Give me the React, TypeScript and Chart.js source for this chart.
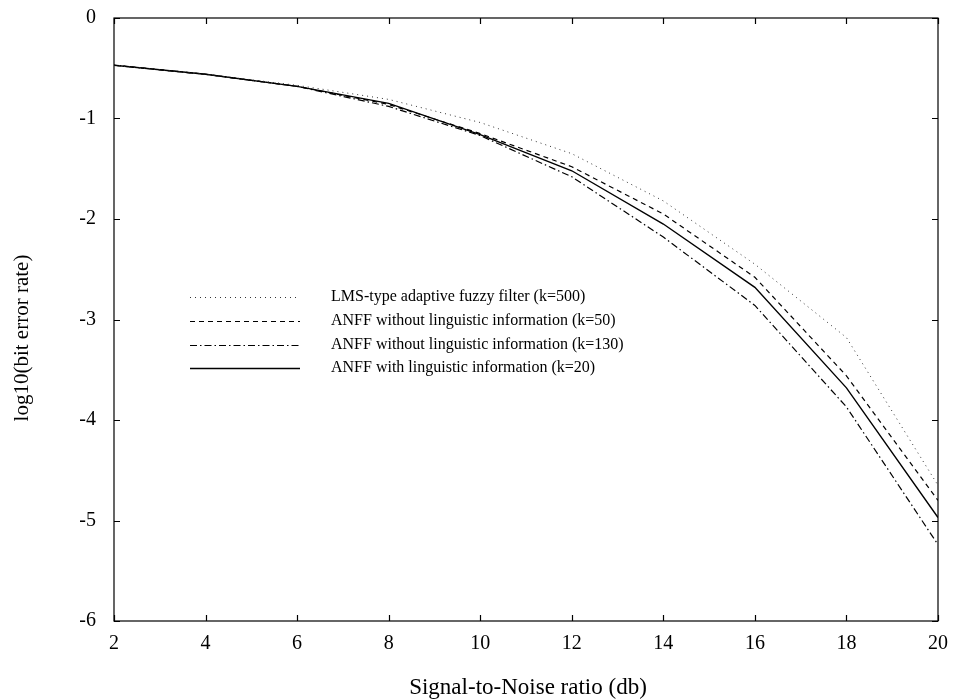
import React, { useEffect, useRef } from "react";
import { Chart, registerables } from "chart.js";

Chart.register(...registerables);

const snr = [2, 4, 6, 8, 10, 12, 14, 16, 18, 20];
const lmsK500 = [-0.47, -0.56, -0.67, -0.81, -1.04, -1.35, -1.82, -2.45, -3.18, -4.65];
const anffNoLingK50 = [-0.47, -0.56, -0.68, -0.86, -1.15, -1.48, -1.95, -2.58, -3.56, -4.8];
const anffNoLingK130 = [-0.47, -0.56, -0.68, -0.88, -1.17, -1.58, -2.18, -2.86, -3.87, -5.24];
const anffLingK20 = [-0.47, -0.56, -0.68, -0.85, -1.16, -1.52, -2.05, -2.68, -3.68, -4.97];

const seriesLabels = [
  "LMS-type adaptive fuzzy filter (k=500)",
  "ANFF without linguistic information (k=50)",
  "ANFF without linguistic information (k=130)",
  "ANFF with linguistic information (k=20)",
];
const xTicks = [2, 4, 6, 8, 10, 12, 14, 16, 18, 20];
const yTicks = [0, -1, -2, -3, -4, -5, -6];
const xTitle = "Signal-to-Noise ratio (db)";
const yTitle = "log10(bit error rate)";

const SERIF = "'Liberation Serif', 'DejaVu Serif', serif";

const framePlugin = {
  id: "frameTicks",
  afterDraw(chart: any) {
    const { ctx, chartArea: a, scales } = chart;
    const xs = scales.x;
    const ys = scales.y;
    ctx.save();
    ctx.strokeStyle = "#000";
    ctx.lineWidth = 1.2;
    ctx.setLineDash([]);
    ctx.strokeRect(a.left, a.top, a.right - a.left, a.bottom - a.top);
    const tl = 6;
    ctx.beginPath();
    xTicks.forEach((v) => {
      const px = Math.round(xs.getPixelForValue(v)) + 0.5;
      ctx.moveTo(px, a.bottom);
      ctx.lineTo(px, a.bottom - tl);
      ctx.moveTo(px, a.top);
      ctx.lineTo(px, a.top + tl);
    });
    yTicks.forEach((v) => {
      const py = Math.round(ys.getPixelForValue(v)) + 0.5;
      ctx.moveTo(a.left, py);
      ctx.lineTo(a.left + tl, py);
      ctx.moveTo(a.right, py);
      ctx.lineTo(a.right - tl, py);
    });
    ctx.stroke();

    // axis titles
    ctx.fillStyle = "#000";
    ctx.textAlign = "center";
    ctx.textBaseline = "middle";
    ctx.font = `23px ${SERIF}`;
    ctx.fillText(xTitle, (a.left + a.right) / 2 + 2, 688);
    ctx.save();
    ctx.translate(22, 338);
    ctx.rotate(-Math.PI / 2);
    ctx.font = `21px ${SERIF}`;
    ctx.fillText(yTitle, 0, 0);
    ctx.restore();

    // legend inside the plot
    const ds = chart.data.datasets;
    const x0 = 190;
    const x1 = 300;
    const tx = 331;
    const rowY = [297, 321, 345, 368];
    ctx.font = `16px ${SERIF}`;
    ctx.textBaseline = "middle";
    ctx.textAlign = "left";
    ds.forEach((d: any, i: number) => {
      ctx.beginPath();
      ctx.strokeStyle = d.borderColor;
      ctx.lineWidth = d.borderWidth;
      ctx.setLineDash(d.borderDash || []);
      ctx.moveTo(x0, rowY[i] + 0.5);
      ctx.lineTo(x1, rowY[i] + 0.5);
      ctx.stroke();
      ctx.setLineDash([]);
      ctx.fillText(d.label, tx, rowY[i]);
    });
    ctx.restore();
  },
};

export default function App() {
  const ref = useRef<HTMLCanvasElement | null>(null);
  useEffect(() => {
    if (!ref.current) return;
    const mk = (data: number[]) => snr.map((x, i) => ({ x, y: data[i] }));
    const chart = new Chart(ref.current, {
      type: "line",
      data: {
        datasets: [
          { label: seriesLabels[0], data: mk(lmsK500), borderColor: "#333", borderWidth: 1, borderDash: [1, 4], pointRadius: 0, tension: 0, fill: false },
          { label: seriesLabels[1], data: mk(anffNoLingK50), borderColor: "#000", borderWidth: 1.2, borderDash: [5, 4], pointRadius: 0, tension: 0, fill: false },
          { label: seriesLabels[2], data: mk(anffNoLingK130), borderColor: "#000", borderWidth: 1.2, borderDash: [7, 3, 1.5, 3], pointRadius: 0, tension: 0, fill: false },
          { label: seriesLabels[3], data: mk(anffLingK20), borderColor: "#000", borderWidth: 1.4, pointRadius: 0, tension: 0, fill: false },
        ],
      },
      options: {
        animation: false,
        responsive: false,
        devicePixelRatio: 1,
        layout: { padding: { left: 0, top: 18, right: 17, bottom: 0 } },
        plugins: { legend: { display: false }, tooltip: { enabled: false } },
        scales: {
          x: {
            type: "linear",
            min: 2,
            max: 20,
            afterBuildTicks: (s: any) => { s.ticks = xTicks.map((v) => ({ value: v })); },
            afterFit: (s: any) => { s.height = 79; s.paddingLeft = 0; s.paddingRight = 0; },
            grid: { display: false, drawTicks: false },
            border: { display: false },
            ticks: { color: "#000", font: { family: SERIF, size: 20 }, padding: 11, maxRotation: 0 },
          },
          y: {
            type: "linear",
            min: -6,
            max: 0,
            afterBuildTicks: (s: any) => { s.ticks = yTicks.map((v) => ({ value: v })); },
            afterFit: (s: any) => { s.width = 114; s.paddingTop = 0; s.paddingBottom = 0; },
            grid: { display: false, drawTicks: false },
            border: { display: false },
            ticks: { color: "#000", font: { family: SERIF, size: 20 }, padding: 18 },
          },
        },
      },
      plugins: [framePlugin],
    });
    return () => chart.destroy();
  }, []);
  return (
    <div style={{ position: "absolute", left: 0, top: 0, width: 955, height: 700, background: "#fff" }}>
      <canvas ref={ref} width={955} height={700} />
    </div>
  );
}
